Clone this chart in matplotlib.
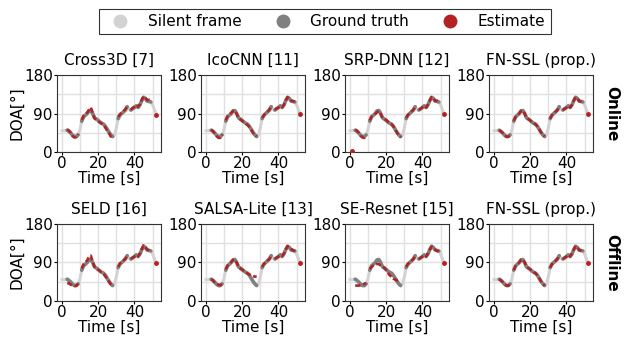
import numpy as np
import matplotlib
matplotlib.use("Agg")
import matplotlib.pyplot as plt
from matplotlib.lines import Line2D

N = np.nan

# time frames [s]
time = list(range(53))

# ground-truth DOA [deg]
gt = [50, 50, 50, 51, 48, 44, 39, 36, 36, 40, 52, 72, 82, 86, 90, 96, 97, 90, 80, 77,
      74, 70, 67, 65, 60, 53, 46, 40, 36, 40, 56, 78, 86, 90, 94, 98, 106, 100, 98, 101,
      104, 108, 104, 110, 120, 128, 125, 119, 118, 117, 110, 98, 89]

# 1 = source active, 0 = silent frame
active = [0, 0, 0, 1, 1, 1, 1, 1, 1, 1, 0, 1, 1, 1, 1, 1, 1, 1, 1, 1,
          1, 1, 1, 1, 1, 1, 1, 1, 1, 0, 0, 1, 1, 1, 1, 1, 1, 0, 1, 1,
          1, 1, 1, 1, 1, 1, 1, 1, 1, 1, 0, 0, 1]

# estimates per method (nan = silent)
est_cross3d = [N, N, N, 53, 50, 45, 37, 34, 35, 42, N, 75, 85, 88, 92, 99, 104, 92, 79, 75,
               72, 69, 66, 63, 57, 50, 44, 36, 32, N, N, 82, 88, 92, 96, 100, 108, N, 99, 103,
               106, 110, 106, 112, 122, 130, 127, 121, 122, 118, N, N, 87]
est_icocnn = [N, N, N, 52, 49, 43, 37, 33, 33, 41, N, 74, 84, 88, 91, 96, 97, 89, 80, 76,
              73, 69, 66, 63, 58, 52, 45, 39, 37, N, N, 80, 86, 91, 94, 99, 107, N, 99, 102,
              104, 107, 105, 110, 121, 128, 124, 120, 119, 118, N, N, 88]
est_srpdnn = [N, 3, N, 52, 50, 45, 38, 34, 33, 38, N, 74, 83, 86, 89, 93, 96, 89, 80, 77,
              75, 71, 68, 65, 60, 52, 45, 39, 34, N, N, 80, 87, 90, 95, 99, 106, N, 99, 101,
              105, 108, 104, 111, 120, 128, 126, 119, 120, 116, N, N, 89]
est_fnssl_on = [N, N, N, 51, 48, 44, 39, 36, 36, 40, N, 73, 82, 86, 90, 96, 97, 90, 80, 77,
                74, 70, 67, 65, 60, 53, 46, 40, 37, N, N, 78, 86, 90, 94, 98, 106, N, 98, 101,
                104, 108, 104, 110, 120, 128, 125, 119, 118, 117, N, N, 89]
est_seld = [N, N, N, 42, 41, 38, 36, 35, 36, 40, N, 76, 86, 90, 95, 104, 106, 92, 80, 76,
            73, 70, 66, 63, 58, 52, 45, 39, 37, N, N, 80, 88, 91, 95, 99, 107, N, 99, 101,
            104, 107, 104, 111, 121, 130, 126, 120, 119, 117, N, N, 89]
est_salsa = [N, N, N, 51, 48, 42, 40, 38, 37, 41, N, 74, 83, 87, 91, 96, 97, 90, 80, 76,
             73, 70, 67, 64, 62, 60, 58, 57, 57, N, N, 80, 87, 90, 95, 98, 107, N, 99, 101,
             104, 107, 105, 111, 121, 128, 124, 121, 119, 116, N, N, 88]
est_seresnet = [N, N, N, 36, 36, 36, 37, 38, 40, 42, N, 75, 80, 83, 85, 87, 86, 83, 80, 78,
                72, 66, 60, 57, 52, 50, 48, 50, 50, N, N, 80, 87, 90, 94, 98, 105, N, 98, 101,
                104, 107, 104, 111, 120, 127, 124, 120, 117, 116, N, N, 89]
est_fnssl_off = [N, N, N, 51, 48, 44, 39, 36, 36, 40, N, 72, 82, 86, 90, 96, 97, 90, 80, 77,
                 74, 70, 67, 65, 60, 53, 46, 40, 36, N, N, 78, 86, 90, 94, 98, 106, N, 98, 101,
                 104, 108, 104, 110, 120, 128, 125, 119, 118, 117, N, N, 89]

titles = [["Cross3D [7]", "IcoCNN [11]", "SRP-DNN [12]", "FN-SSL (prop.)"],
          ["SELD [16]", "SALSA-Lite [13]", "SE-Resnet [15]", "FN-SSL (prop.)"]]
estimates = [[est_cross3d, est_icocnn, est_srpdnn, est_fnssl_on],
             [est_seld, est_salsa, est_seresnet, est_fnssl_off]]
row_names = ["Online", "Offline"]

c_silent = "#d3d3d3"
c_gt = "#808080"
c_est = "#b22222"

plt.rcParams["font.family"] = "DejaVu Sans"
fs = 11

t = np.array(time, dtype=float)
g = np.array(gt, dtype=float)
g_act = np.where(np.array(active) == 1, g, np.nan)

fig = plt.figure(figsize=(6.28, 3.38), dpi=100)

lefts = [0.0908 + i * 0.2293 for i in range(4)]
bottoms = [0.5503, 0.1095]
for r in range(2):
    for c in range(4):
        ax = fig.add_axes([lefts[c], bottoms[r], 0.1656, 0.2278])
        ax.plot(t, g, color=c_silent, lw=2.2, solid_capstyle="round", zorder=2)
        ax.plot(t, g_act, color=c_gt, lw=2.6, solid_capstyle="round", zorder=3)
        e = np.array(estimates[r][c], dtype=float)
        ax.plot(t, e, color=c_est, lw=1.9, ls=(0, (2.0, 1.0)), zorder=4)
        # single frames between silent ones would not show as a line
        prev = np.concatenate([[np.nan], e[:-1]])
        nxt = np.concatenate([e[1:], [np.nan]])
        lone = ~np.isnan(e) & np.isnan(prev) & np.isnan(nxt)
        ax.plot(t[lone], e[lone], color=c_est, ls="none", marker="o", ms=2.5, zorder=4)
        ax.set_ylim(0, 180)
        ax.set_yticks([0, 90, 180])
        ax.set_yticks([45, 135], minor=True)
        ax.set_xticks([0, 20, 40])
        ax.set_xticks([10, 30, 50], minor=True)
        ax.tick_params(which="minor", length=0)
        ax.tick_params(which="major", length=2, pad=1, labelsize=fs)
        ax.grid(True, which="both", color="#e0e0e0", lw=1.0, zorder=0)
        ax.set_axisbelow(True)
        for s in ax.spines.values():
            s.set_color("#333333")
        ax.set_title(titles[r][c], fontsize=fs, pad=7)
        ax.set_xlabel("Time [s]", fontsize=fs, labelpad=0)
        if c == 0:
            ax.set_ylabel("DOA[°]", fontsize=fs, labelpad=0)
    fig.text(0.9745, bottoms[r] + 0.2278 / 2, row_names[r], rotation=-90,
             fontweight="bold", fontsize=fs, ha="center", va="center")

handles = [Line2D([], [], color=c_silent, marker="o", ls="none", ms=9),
           Line2D([], [], color=c_gt, marker="o", ls="none", ms=9),
           Line2D([], [], color=c_est, marker="o", ls="none", ms=9)]
leg = fig.legend(handles, ["Silent frame", "Ground truth", "Estimate"], ncol=3,
                 loc="upper center", bbox_to_anchor=(0.5175, 0.997), fancybox=False,
                 edgecolor="black", fontsize=fs, columnspacing=1.7, handletextpad=0.8,
                 borderpad=0.35)
leg.get_frame().set_linewidth(0.8)

fig.savefig("out.png", dpi=100)
